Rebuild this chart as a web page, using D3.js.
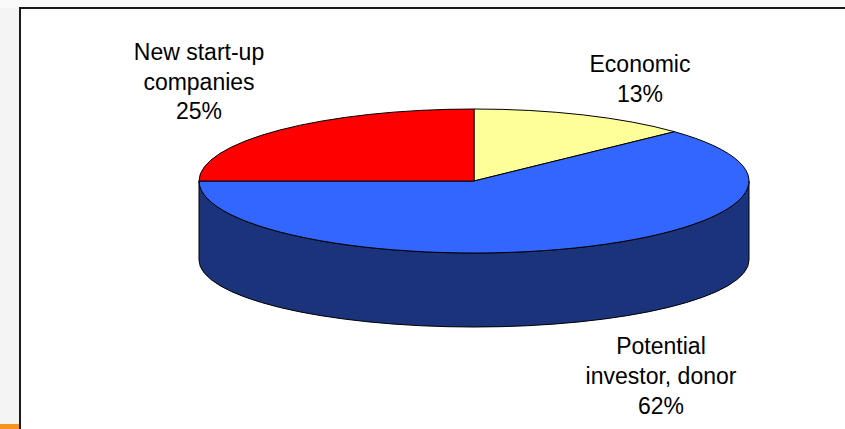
<!DOCTYPE html>
<html><head><meta charset="utf-8">
<script src="https://cdn.jsdelivr.net/npm/d3@7"></script>
<style>html,body{margin:0;padding:0;background:#f4f4f4;overflow:hidden}</style>
</head><body>
<script>
const categories = ["Economic", "Potential investor, donor", "New start-up companies"];
const values = [13, 62, 25];
const labelLines = [["Economic", "13%"], ["Potential", "investor, donor", "62%"], ["New start-up", "companies", "25%"]];
const colors = ["#FFFF99", "#3366FF", "#FF0000"];
const sideColors = ["#9a9a5c", "#1b337a", "#990000"];

const W = 845, H = 429;
const svg = d3.select("body").append("svg").attr("width", W).attr("height", H);

// frame
svg.append("rect").attr("x", 0).attr("y", 0).attr("width", W).attr("height", 8).attr("fill", "#fafafa");
svg.append("rect").attr("x", 0).attr("y", 424).attr("width", 20).attr("height", 5).attr("fill", "#f7941d");
svg.append("rect").attr("x", 20).attr("y", 8).attr("width", W).attr("height", H)
  .attr("fill", "#ffffff").attr("stroke", "#1a1a1a").attr("stroke-width", 2);

const cx = 474, cy = 181, rx = 275, ry = 72, depth = 79, ryB = 67;
const pt = (a) => [cx + rx * Math.sin(a), cy - ry * Math.cos(a)];
const ptB = (a) => [cx + rx * Math.sin(a), cy + depth - ryB * Math.cos(a)];

const pie = d3.pie().sort(null).value(d => d)(values);

const g = svg.append("g");
// side walls (front half: angles PI/2 .. 3PI/2)
pie.forEach((s, i) => {
  const a0 = Math.max(s.startAngle, Math.PI / 2), a1 = Math.min(s.endAngle, 3 * Math.PI / 2);
  if (a1 <= a0) return;
  const p0 = pt(a0), p1 = pt(a1), q1 = ptB(a1), q0 = ptB(a0);
  const large = (a1 - a0) > Math.PI ? 1 : 0;
  const d = `M${p0}A${rx},${ry} 0 ${large} 1 ${p1}L${q1}A${rx},${ryB} 0 ${large} 0 ${q0}Z`;
  g.append("path").attr("d", d).attr("fill", sideColors[i]).attr("stroke", "#000").attr("stroke-width", 1).attr("stroke-linejoin", "round");
});
// tops
pie.forEach((s, i) => {
  const p0 = pt(s.startAngle), p1 = pt(s.endAngle);
  const large = (s.endAngle - s.startAngle) > Math.PI ? 1 : 0;
  const d = `M${cx},${cy}L${p0}A${rx},${ry} 0 ${large} 1 ${p1}Z`;
  g.append("path").attr("d", d).attr("fill", colors[i]).attr("stroke", "#000").attr("stroke-width", 1).attr("stroke-linejoin", "round");
});

// labels
const labelPos = [[640, 72.3], [661, 354.3], [199, 60]];
labelLines.forEach((lines, i) => {
  const t = svg.append("text").attr("font-family", "'Liberation Sans', Arial, sans-serif")
    .attr("font-size", 23).attr("text-anchor", "middle").attr("fill", "#000");
  lines.forEach((l, k) => {
    t.append("tspan").attr("x", labelPos[i][0]).attr("y", labelPos[i][1] + k * 29.7).text(l);
  });
});
</script>
</body></html>
